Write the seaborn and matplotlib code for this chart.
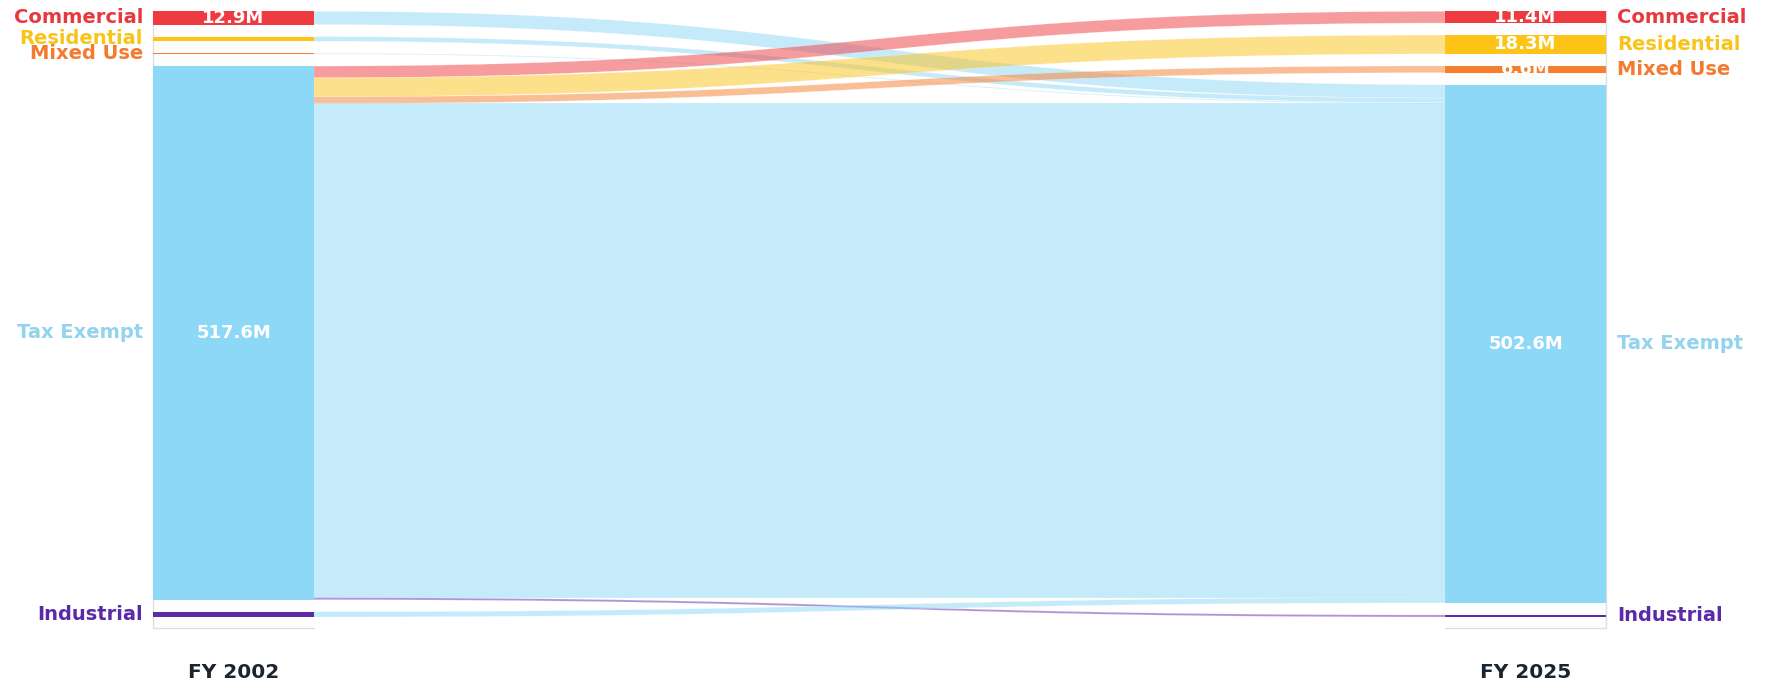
import numpy as np
import matplotlib
matplotlib.use("Agg")
import matplotlib.pyplot as plt
from matplotlib.patches import Polygon, Rectangle
import seaborn as sns

# Nodes (same categories on both sides)
nodes = ["Commercial", "Residential", "Mixed Use", "Tax Exempt", "Industrial"]
node_colors = ["#EF3B3F", "#FDC317", "#F77F2C", "#8DD7F7", "#5E2AA6"]
label_colors = ["#E8383F", "#F9C41A", "#F47A2E", "#93D3EE", "#5B2AA8"]
columns = ["FY 2002", "FY 2025"]

# Links FY 2002 -> FY 2025 (values in $M)
link_source = ["Commercial", "Residential", "Mixed Use", "Tax Exempt", "Tax Exempt",
               "Tax Exempt", "Tax Exempt", "Tax Exempt", "Industrial"]
link_target = ["Tax Exempt", "Tax Exempt", "Tax Exempt", "Commercial", "Residential",
               "Mixed Use", "Tax Exempt", "Industrial", "Tax Exempt"]
link_value = [12.9, 4.5, 0.8, 11.4, 18.3, 6.6, 479.3, 2.0, 5.1]

LABEL_MIN = 6.0

sns.set_theme(style="white")
plt.rcParams["font.family"] = ["DejaVu Sans"]

W, H = 1769, 685
fig = plt.figure(figsize=(W / 100, H / 100), dpi=100)
ax = fig.add_axes([0, 0, 1, 1])
ax.set_xlim(0, W)
ax.set_ylim(H, 0)
ax.axis("off")

col_x = [153, 1445]
node_w = 161
top, bottom, gap = 11.3, 617.0, 12.0

n_idx = {n: i for i, n in enumerate(nodes)}
left_val = np.zeros(len(nodes))
right_val = np.zeros(len(nodes))
for s, t, v in zip(link_source, link_target, link_value):
    left_val[n_idx[s]] += v
    right_val[n_idx[t]] += v

total = max(left_val.sum(), right_val.sum())
k = (bottom - top - gap * (len(nodes) - 1)) / total


def layout(vals):
    ys, y = [], top
    for v in vals:
        ys.append(y)
        y += v * k + gap
    return np.array(ys)


left_y = layout(left_val)
right_y = layout(right_val)

# column frames
for ci, x in enumerate(col_x):
    ax.add_patch(Rectangle((x, top), node_w, 628 - top, facecolor="#FDFDFD",
                           edgecolor="none", zorder=0))
    ax.plot([x, x + node_w], [628, 628], color="#DDDDDD", lw=0.9, zorder=1)
    ex = x if ci == 0 else x + node_w
    ax.plot([ex, ex], [top, 628], color="#DDDDDD", lw=0.9, zorder=1)

# links
x0 = col_x[0] + node_w
x1 = col_x[1]
xm = (x0 + x1) / 2
t = np.linspace(0, 1, 120)


def bez(a, b):
    xs = (1 - t) ** 3 * x0 + 3 * (1 - t) ** 2 * t * xm + 3 * (1 - t) * t ** 2 * xm + t ** 3 * x1
    ys = (1 - t) ** 3 * a + 3 * (1 - t) ** 2 * t * a + 3 * (1 - t) * t ** 2 * b + t ** 3 * b
    return xs, ys


links = list(zip(link_source, link_target, link_value))
# outgoing offsets (sorted by target), incoming offsets (sorted by source)
out_pos = {}
off = left_y.copy()
for s, tg, v in sorted(links, key=lambda l: (n_idx[l[0]], n_idx[l[1]])):
    out_pos[(s, tg)] = off[n_idx[s]]
    off[n_idx[s]] += v * k
in_pos = {}
off = right_y.copy()
for s, tg, v in sorted(links, key=lambda l: (n_idx[l[1]], n_idx[l[0]])):
    in_pos[(s, tg)] = off[n_idx[tg]]
    off[n_idx[tg]] += v * k

for s, tg, v in links:
    h = v * k
    a, b = out_pos[(s, tg)], in_pos[(s, tg)]
    xs, yt = bez(a, b)
    _, yb = bez(a + h, b + h)
    pts = np.column_stack([np.r_[xs, xs[::-1]], np.r_[yt, yb[::-1]]])
    ax.add_patch(Polygon(pts, closed=True, facecolor=node_colors[n_idx[tg]],
                         alpha=0.5, edgecolor="white", lw=0.3, zorder=2))

# nodes + labels
for side, (ys, vals) in enumerate([(left_y, left_val), (right_y, right_val)]):
    x = col_x[side]
    for i, n in enumerate(nodes):
        h = max(vals[i] * k, 0.8)
        ax.add_patch(Rectangle((x, ys[i]), node_w, h, facecolor=node_colors[i],
                               edgecolor="none", zorder=3))
        cy = ys[i] + h / 2
        if side == 0:
            ax.text(x - 10, cy, n, ha="right", va="center", fontsize=14,
                    fontweight="bold", color=label_colors[i], zorder=5)
        else:
            ax.text(x + node_w + 11, cy, n, ha="left", va="center", fontsize=14,
                    fontweight="bold", color=label_colors[i], zorder=5)
        if vals[i] >= LABEL_MIN:
            ax.text(x + node_w / 2, cy, f"{vals[i]:.1f}M", ha="center", va="center",
                    fontsize=13, fontweight="bold", color="white", zorder=4)
    ax.text(x + node_w / 2, 673, columns[side], ha="center", va="center",
            fontsize=14.5, fontweight="bold", color="#1B2530")

fig.savefig("out.png", dpi=100, facecolor="white")
